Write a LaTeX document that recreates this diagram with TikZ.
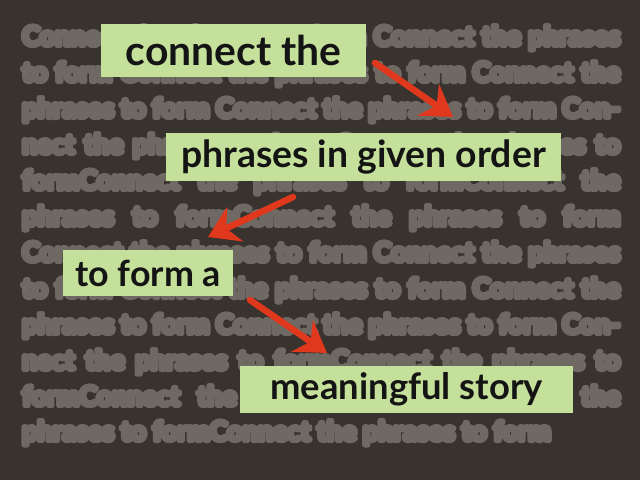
\documentclass[tikz,border=0pt]{standalone}
\usepackage{fontspec}
\setmainfont{Lato}
\usetikzlibrary{arrows.meta}
\definecolor{bg}{HTML}{38332F}
\definecolor{blurtxt}{HTML}{6F6963}
\definecolor{boxgreen}{HTML}{C5E09B}
\definecolor{arrowred}{HTML}{E0381C}
\definecolor{ink}{HTML}{141414}
\newcommand\fatstart{\special{pdf:literal direct 2 Tr 5 w 1 j 1 J}}
\newcommand\fatstop{\special{pdf:literal direct 0 Tr 1 w 0 j 0 J}}
\tikzset{
  bgtext/.style={anchor=mid west, inner sep=0pt, text=blurtxt,
    font=\fontsize{27}{30}\selectfont\bfseries},
  phrase/.style={fill=boxgreen, text=ink, inner sep=0pt},
  redarrow/.style={draw=arrowred, line width=6.5bp, line cap=round,
    -{Stealth[length=30bp,width=38bp,inset=10bp]}}
}
\newcommand\blurline[3]{\node[bgtext] (#1) at (22,#2) {\color{blurtxt}\fatstart#3\fatstop};}
\begin{document}
\begin{tikzpicture}[x=1bp,y=-1bp]
\fill[bg] (0,0) rectangle (640,480);
\useasboundingbox (0,0) rectangle (640,480);
\blurline{l1}{43}{\makebox[598bp][s]{Connect the phrases to form Connect the phrases}}
\blurline{l2}{79}{\makebox[598bp][s]{to form Connect the phrases to form Connect the}}
\blurline{l3}{115}{\makebox[598bp][s]{phrases to form Connect the phrases to form Con-}}
\blurline{l4}{151}{\makebox[598bp][s]{nect the phrases to form Connect the phrases to}}
\blurline{l5}{187}{\makebox[598bp][s]{formConnect the phrases to formConnect the}}
\blurline{l6}{223}{\makebox[598bp][s]{phrases to formConnect the phrases to form}}
\blurline{l7}{259}{\makebox[598bp][s]{Connect the phrases to form Connect the phrases}}
\blurline{l8}{295}{\makebox[598bp][s]{to form Connect the phrases to form Connect the}}
\blurline{l9}{331}{\makebox[598bp][s]{phrases to form Connect the phrases to form Con-}}
\blurline{l10}{367}{\makebox[598bp][s]{nect the phrases to formConnect the phrases to}}
\blurline{l11}{403}{\makebox[598bp][s]{formConnect the phrases to formConnect the}}
\blurline{l12}{438}{phrases to formConnect the phrases to form}

\node[phrase, minimum width=265bp, minimum height=53bp, font=\fontsize{41}{46}\selectfont\bfseries] (p1) at (233.5,50.5) {connect the};
\node[phrase, minimum width=395bp, minimum height=48bp, font=\fontsize{37.5}{42}\selectfont\bfseries] (p2) at (363.5,157) {phrases in given order};
\node[phrase, minimum width=170bp, minimum height=46bp, font=\fontsize{36}{42}\selectfont\bfseries] (p3) at (148,273) {to form a};
\node[phrase, minimum width=333bp, minimum height=47bp, font=\fontsize{36.5}{42}\selectfont\bfseries] (p4) at (406.5,389.5) {meaningful story};

\coordinate (a1s) at (375,63);
\coordinate (a1e) at (453,117);
\coordinate (a2s) at (293,197);
\coordinate (a2e) at (208,237);
\coordinate (a3s) at (250,300);
\coordinate (a3e) at (327,353);
\draw[redarrow] (a1s) -- (a1e);
\draw[redarrow] (a2s) -- (a2e);
\draw[redarrow] (a3s) -- (a3e);
\end{tikzpicture}
\end{document}
